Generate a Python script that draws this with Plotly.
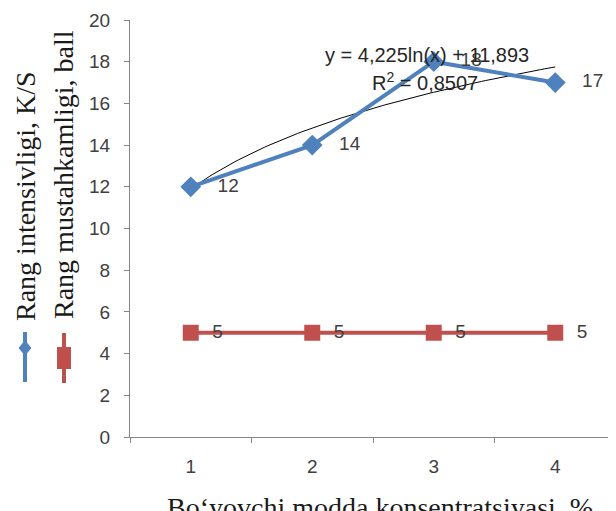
import numpy as np
import plotly.graph_objects as go

categories = [1, 2, 3, 4]
intensivlik = [12, 14, 18, 17]
mustahkamlik = [5, 5, 5, 5]
y_ticks = list(range(0, 21, 2))

BLUE = "#4F81BD"
RED = "#C0504D"
AXIS = "#868686"
TXT = "#404040"
SANS = "Liberation Sans"
SERIF = "Liberation Serif"

# logarithmic trendline fitted to the blue series
lnx = np.log(np.array(categories, dtype=float))
a, b = np.polyfit(lnx, np.array(intensivlik, dtype=float), 1)
tx = np.linspace(categories[0], categories[-1], 100)
ty = a * np.log(tx) + b
r2 = 1 - np.sum((np.array(intensivlik) - (a * lnx + b)) ** 2) / np.sum(
    (np.array(intensivlik) - np.mean(intensivlik)) ** 2)

fig = go.Figure()
fig.add_trace(go.Scatter(x=tx, y=ty, mode="lines",
                         line=dict(color="black", width=1), hoverinfo="skip",
                         showlegend=False))
fig.add_trace(go.Scatter(x=categories, y=intensivlik, mode="lines+markers+text",
                         line=dict(color=BLUE, width=4),
                         marker=dict(symbol="diamond", size=16, color=BLUE),
                         text=["   " + str(v) for v in intensivlik],
                         textposition="middle right",
                         textfont=dict(family=SANS, size=19, color=TXT),
                         showlegend=False))
fig.add_trace(go.Scatter(x=categories, y=mustahkamlik, mode="lines+markers+text",
                         line=dict(color=RED, width=4),
                         marker=dict(symbol="square", size=16, color=RED),
                         text=["  " + str(v) for v in mustahkamlik],
                         textposition="middle right",
                         textfont=dict(family=SANS, size=19, color=TXT),
                         showlegend=False))

# page has an 8px body margin: figure is drawn at (8, 8)
fig.update_layout(
    width=608, height=503,
    margin=dict(l=122, r=0, t=12, b=74, autoexpand=False),
    paper_bgcolor="white", plot_bgcolor="white",
    showlegend=False,
    xaxis=dict(range=[0.5, 4.5], tickmode="array", tickvals=categories,
               ticktext=[str(c) for c in categories], ticks="", automargin=False,
               showline=True, linecolor=AXIS, linewidth=1, showgrid=False,
               zeroline=False, ticklabelstandoff=12,
               tickfont=dict(family=SANS, size=19, color=TXT),
               minor=dict(tickmode="array", tickvals=[0.5, 1.5, 2.5, 3.5, 4.5],
                          ticks="outside", ticklen=5, tickcolor=AXIS, showgrid=False)),
    yaxis=dict(range=[0, 20], tickmode="array", tickvals=y_ticks, automargin=False,
               ticks="outside", ticklen=5, tickcolor=AXIS,
               showline=True, linecolor=AXIS, linewidth=1, showgrid=False,
               zeroline=False, ticklabelstandoff=10,
               tickfont=dict(family=SANS, size=19, color=TXT)),
)


def px(xp):
    return (xp - 130) / 486


def py(yp):
    return (437 - yp) / 417


eq = "y = %sln(x) + %s" % (f"{a:.3f}".replace(".", ","), f"{b:.3f}".replace(".", ","))
fig.add_annotation(x=px(427), y=py(55), xref="paper", yref="paper",
                   text=eq, showarrow=False, xanchor="center", yanchor="middle",
                   font=dict(family=SANS, size=20, color="#262626"))
fig.add_annotation(x=px(425), y=py(82), xref="paper", yref="paper",
                   text="R<sup>2</sup> = " + f"{r2:.4f}".replace(".", ","), showarrow=False,
                   xanchor="center", yanchor="middle",
                   font=dict(family=SANS, size=20, color="#262626"))

# x axis title
fig.add_annotation(x=px(380), y=py(507), xref="paper", yref="paper",
                   text="Bo‘yovchi modda konsentratsiyasi, %", showarrow=False,
                   xanchor="center", yanchor="middle",
                   font=dict(family=SERIF, size=28, color="#1a1a1a"))

# rotated legend
fig.add_annotation(x=px(25), y=py(196), xref="paper", yref="paper",
                   text="Rang intensivligi, K/S", textangle=-90, showarrow=False,
                   xanchor="center", yanchor="middle",
                   font=dict(family=SERIF, size=28, color="#1a1a1a"))
fig.add_annotation(x=px(63), y=py(175), xref="paper", yref="paper",
                   text="Rang mustahkamligi, ball", textangle=-90, showarrow=False,
                   xanchor="center", yanchor="middle",
                   font=dict(family=SERIF, size=28, color="#1a1a1a"))

fig.add_shape(type="line", xref="paper", yref="paper", x0=px(25), x1=px(25),
              y0=py(332), y1=py(382), line=dict(color=BLUE, width=4))
fig.add_shape(type="path", xref="paper", yref="paper", xsizemode="pixel", ysizemode="pixel",
              xanchor=px(25), yanchor=py(348), path="M 0,7 L 6,0 L 0,-7 L -6,0 Z",
              fillcolor=BLUE, line=dict(color=BLUE, width=1))
fig.add_shape(type="line", xref="paper", yref="paper", x0=px(64), x1=px(64),
              y0=py(333), y1=py(383), line=dict(color=RED, width=4))
fig.add_shape(type="rect", xref="paper", yref="paper", x0=px(57), x1=px(71),
              y0=py(347), y1=py(369), fillcolor=RED, line=dict(color=RED, width=0))

fig.write_html("out.html")
